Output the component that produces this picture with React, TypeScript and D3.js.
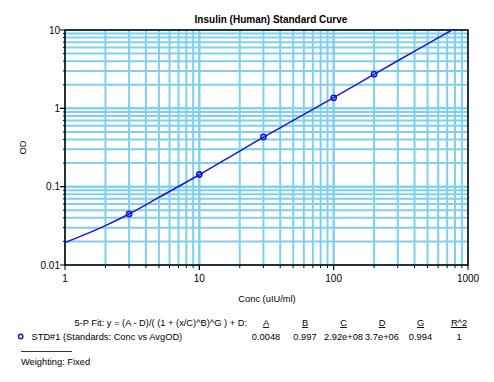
import React from "react";
import * as d3 from "d3";

const title = "Insulin (Human) Standard Curve";
const xLabel = "Conc (uIU/ml)";
const yLabel = "OD";

// Standards (Conc, AvgOD)
const stdConc = [3, 10, 30, 100, 200];
const stdOD = [0.0448, 0.143, 0.432, 1.36, 2.73];

// Fitted curve
const curveConc = [1, 2, 3, 5, 10, 20, 30, 50, 100, 200, 300, 500, 760, 1000];
const curveOD = [0.0193, 0.0318, 0.0448, 0.073, 0.142, 0.285, 0.428, 0.70, 1.37, 2.72, 4.05, 6.65, 10.0, 13.1];

const xTicks = [1, 10, 100, 1000];
const xTickLabels = ["1", "10", "100", "1000"];
const yTicks = [0.01, 0.1, 1, 10];
const yTickLabels = ["0.01", "0.1", "1", "10"];

const fitLabel = "5-P Fit: y = (A - D)/( (1 + (x/C)^B)^G ) + D:";
const paramNames = ["A", "B", "C", "D", "G", "R^2"];
const paramValues = ["0.0048", "0.997", "2.92e+08", "3.7e+06", "0.994", "1"];
const seriesName = "STD#1 (Standards: Conc vs AvgOD)";
const weighting = "Weighting: Fixed";

const W = 494, H = 382;
const L = 65, R = 468, T = 30, B = 265;
const FONT = "'Liberation Sans', Arial, sans-serif";
const GRID = "#7ed0f0";
const BLUE = "#1818d0";
const FS = 9.3;

export default function App() {
  const x = d3.scaleLog().domain([1, 1000]).range([L, R]);
  const y = d3.scaleLog().domain([0.01, 10]).range([B, T]);

  const minorX: number[] = [];
  for (const dec of [1, 10, 100]) for (let k = 1; k <= 10; k++) minorX.push(dec * k);
  const minorY: number[] = [];
  for (const dec of [0.01, 0.1, 1]) for (let k = 1; k <= 10; k++) minorY.push(+(dec * k).toPrecision(3));

  const line = d3
    .line<number>()
    .x((_, i) => x(curveConc[i]))
    .y((d) => y(d))
    .curve(d3.curveMonotoneX);

  const colX = [266, 305, 343.5, 382, 420.5, 459];

  return (
    <svg width={W} height={H} style={{ position: "absolute", left: 0, top: 0, background: "#fff" }} fontFamily={FONT}>
      <defs>
        <clipPath id="plotclip">
          <rect x={L} y={T} width={R - L} height={B - T} />
        </clipPath>
      </defs>
      <rect x={0} y={0} width={W} height={H} fill="#fff" />
      {/* grid */}
      {minorX.map((v, i) => (
        <line key={"gx" + i} x1={x(v)} x2={x(v)} y1={T} y2={B} stroke={GRID} strokeWidth={2} />
      ))}
      {minorY.map((v, i) => (
        <line key={"gy" + i} x1={L} x2={R} y1={y(v)} y2={y(v)} stroke={GRID} strokeWidth={2} />
      ))}
      {/* frame */}
      <rect x={L} y={T} width={R - L} height={B - T} fill="none" stroke="#000" strokeWidth={1.5} />
      {/* ticks */}
      {minorX.map((v, i) => {
        const major = xTicks.includes(v);
        return <line key={"tx" + i} x1={x(v)} x2={x(v)} y1={B} y2={B + (major ? 5 : 3)} stroke="#000" strokeWidth={1} />;
      })}
      {minorY.map((v, i) => {
        const major = yTicks.some((t) => Math.abs(t - v) < 1e-9);
        return <line key={"ty" + i} x1={L - (major ? 5 : 2)} x2={L} y1={y(v)} y2={y(v)} stroke="#000" strokeWidth={1} />;
      })}
      {xTicks.map((v, i) => (
        <text key={"xl" + i} x={x(v)} y={282} fontSize={10} textAnchor="middle" fill="#000">
          {xTickLabels[i]}
        </text>
      ))}
      {yTicks.map((v, i) => (
        <text key={"yl" + i} x={L - 5} y={y(v) + 3.5} fontSize={10} textAnchor="end" fill="#000">
          {yTickLabels[i]}
        </text>
      ))}
      {/* curve */}
      <path d={line(curveOD) || ""} fill="none" stroke={BLUE} strokeWidth={1.5} clipPath="url(#plotclip)" />
      {stdConc.map((c, i) => (
        <circle key={"p" + i} cx={x(c)} cy={y(stdOD[i])} r={2.6} fill="none" stroke={BLUE} strokeWidth={1.6} />
      ))}
      {/* titles */}
      <text x={271} y={22.5} fontSize={10} fontWeight="bold" textAnchor="middle" fill="#000">
        {title}
      </text>
      <text x={267} y={302} fontSize={FS} textAnchor="middle" fill="#000">
        {xLabel}
      </text>
      <text transform={`translate(26,${(T + B) / 2}) rotate(-90)`} fontSize={FS} textAnchor="middle" fill="#000">
        {yLabel}
      </text>
      {/* fit legend */}
      <text x={247} y={326} fontSize={FS} textAnchor="end" fill="#000">
        {fitLabel}
      </text>
      {paramNames.map((n, i) => (
        <text key={"pn" + i} x={colX[i]} y={326} fontSize={FS} textAnchor="middle" fill="#000" textDecoration="underline">
          {n}
        </text>
      ))}
      {paramValues.map((v, i) => (
        <text key={"pv" + i} x={colX[i]} y={340} fontSize={FS} textAnchor="middle" fill="#000">
          {v}
        </text>
      ))}
      <circle cx={20.7} cy={336.5} r={2.2} fill="none" stroke={BLUE} strokeWidth={1.4} />
      <text x={31.5} y={340} fontSize={FS} fill="#000">
        {seriesName}
      </text>
      <line x1={21} x2={72} y1={351.5} y2={351.5} stroke="#000" strokeWidth={0.8} />
      <text x={21} y={364.5} fontSize={FS} fill="#000">
        {weighting}
      </text>
    </svg>
  );
}
